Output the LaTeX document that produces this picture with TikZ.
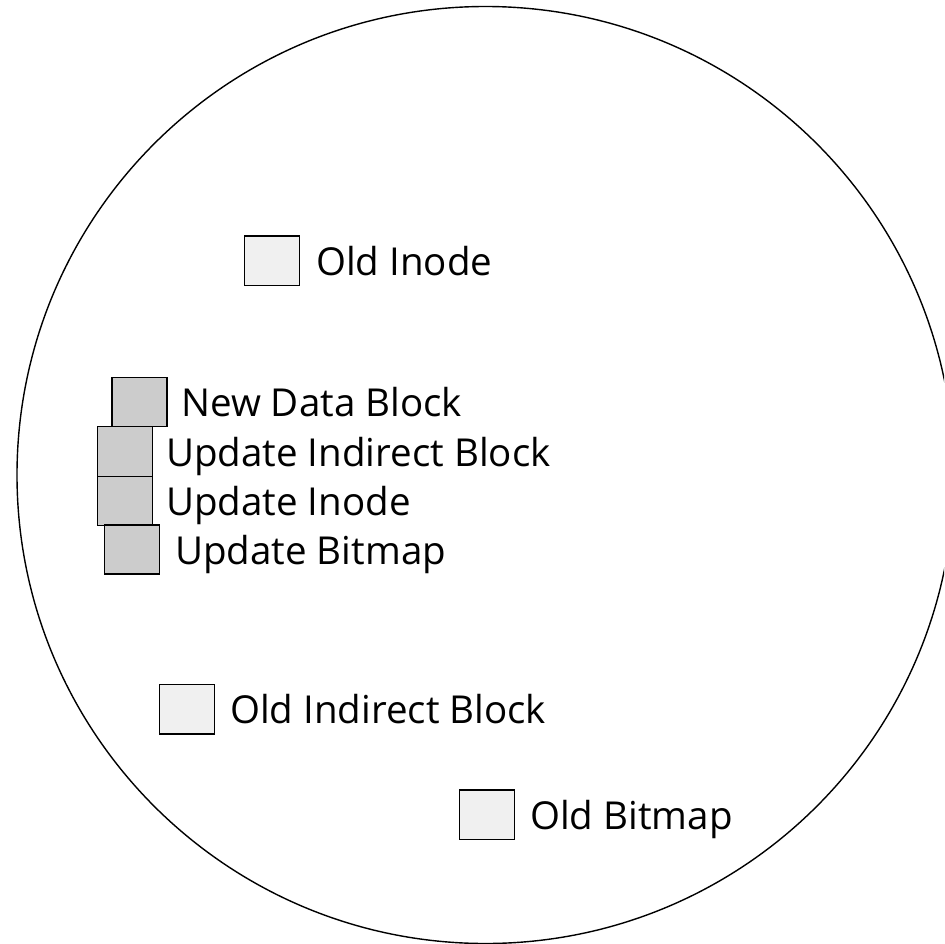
\documentclass[tikz,border=0pt]{standalone}
\usepackage{fontspec}
\setmainfont{Open Sans}
\begin{document}
\begin{tikzpicture}[x=1pt,y=-1pt,
  oldbox/.style={draw=black,line width=1.1pt,fill=black!6,inner sep=0pt,outer sep=0pt,minimum width=55pt,minimum height=49.5pt},
  newbox/.style={draw=black,line width=1.1pt,fill=black!20,inner sep=0pt,outer sep=0pt,minimum width=55pt,minimum height=49pt},
  lbl/.style={anchor=base west,inner sep=0pt,font=\fontsize{38.5}{40}\selectfont}]
\useasboundingbox (0,0) rectangle (944,944);
\clip (0,0) rectangle (944,944);
\node[draw=black,line width=1.4pt,circle,minimum size=937pt,inner sep=0pt] (disk) at (485.5,475) {};
% old blocks
\node[oldbox] (oinode) at (272.2,260.7) {};
\node[lbl] (toinode) at (316,275) {Old Inode};
\node[oldbox] (oind) at (186.7,709.2) {};
\node[lbl] (toind) at (230,723.5) {Old Indirect Block};
\node[oldbox] (obmp) at (486.7,814.7) {};
\node[lbl] (tobmp) at (530,829) {Old Bitmap};
% new blocks
\node[newbox] (ndata) at (139.5,402.2) {};
\node[lbl] (tndata) at (181,416.5) {New Data Block};
\node[newbox,minimum height=50pt] (uind) at (124.8,451.7) {};
\node[lbl] (tuind) at (166,466) {Update Indirect Block};
\node[newbox,minimum height=48.3pt] (uinode) at (124.8,500.9) {};
\node[lbl] (tuinode) at (166,515) {Update Inode};
\node[newbox] (ubmp) at (132.2,549.5) {};
\node[lbl] (tubmp) at (175,564) {Update Bitmap};
\end{tikzpicture}
\end{document}
